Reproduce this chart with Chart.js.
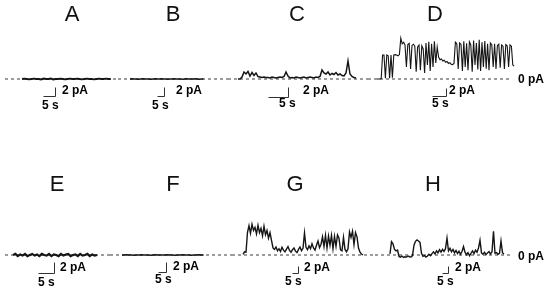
<!DOCTYPE html>
<html>
<head>
<meta charset="utf-8">
<script src="https://cdn.jsdelivr.net/npm/chart.js@4.4.0/dist/chart.umd.min.js"></script>
<style>
    html, body { margin: 0; padding: 0; background: #fff; }
    #wrap { position: relative; width: 550px; height: 291px; overflow: hidden; }
    #wrap canvas { position: absolute; }
</style>
</head>
<body>
<div id="wrap"></div>
<script>
// Panel letters and text labels
const panelLetters = ['A', 'B', 'C', 'D', 'E', 'F', 'G', 'H'];
const currentBarLabel = '2 pA';
const timeBarLabel = '5 s';
const zeroLabel = '0 pA';

// Scale bar sizes (same for every panel)
const scaleBarSec = 5;
const scaleBarPA = 2;

// Sample interval of each trace, seconds
const sampleSec = [1.0, 1.5, 0.5, 0.5, 0.75, 1.5, 1.25, 1.25];

// Current traces, pA
const traceA = [0, 0.1, 0, -0.1, 0, 0.1, 0, 0, -0.1, 0.1, 0, 0, 0.1, -0.1, 0, 0, 0.1, 0, -0.1, 0,
    0.1, 0, 0, 0.1, 0, -0.1, 0, 0.1, 0, 0, -0.1, 0, 0.1, 0, 0, 0.1, 0, 0];
const traceB = [0, 0.05, 0, 0, -0.05, 0, 0.05, 0, 0, 0, -0.05, 0, 0.05, 0, 0, 0.05, 0, 0,
    -0.05, 0, 0, 0.05, 0, 0, 0, -0.05, 0, 0.05, 0, 0, 0, 0.05, 0, -0.05, 0, 0];
const traceC = [0, 0, 0.4, 1.4, 1.0, 1.5, 0.6, 1.3, 0.7, 1.2, 0.5, 0.4, 0.3, 0.4, 0.3,
    0.3, 0.2, 0.4, 0.3, 0.2, 0.3, 0.4, 0.3, 0.5, 1.4,
    0.6, 0.2, 0.3, 0.2, 0.4, 0.3, 0.2, 0.3, 0.4, 0.2, 0.3, 0.4, 0.3, 0.2, 0.4, 0.3, 0.5, 1.8,
    1.2, 1.0, 1.4, 0.8, 1.1, 0.9, 1.3, 0.8, 1.0, 0.7,
    0.6, 1.2, 3.6, 1.0, 0.5, 0.3, 0.2];
const traceD = [0, 0, 0, 0.1, 6, 6, 0.2, 6, 5.8, 0.2, 6, 0.3, 6, 6.1, 6, 5.8, 6.1, 10.2,
    8.8, 9.2, 8.5, 3.0, 8.6, 8.9, 2.5, 8.4, 8.7, 8.2, 1.8, 8.0, 8.5, 2.2, 8.3, 7.5, 1.5, 9.0,
    3.5, 9.3, 2.0, 8.8, 3.0, 9.4, 4.0, 8.0,
    5.5, 4.8, 5.0, 4.5, 4.7, 4.2, 4.4, 3.9, 4.1, 3.7, 3.6, 3.9,
    9.2, 8.8, 2.5, 9.0, 8.7, 2.0, 9.4, 3.0, 8.9, 2.2, 9.3, 8.5, 1.8, 9.6, 3.5, 9.0, 2.4, 9.8,
    2.0, 9.2, 3.0, 9.5, 2.6, 8.8, 2.2, 9.0, 8.6, 3.0, 8.8, 2.5, 8.4, 8.7, 2.8, 8.5, 8.2, 2.5,
    8.6, 8.3, 3.0, 8.5, 8.2, 3.5, 3.2];
const traceE = [0, 0.2, -0.2, 0.1, -0.1, 0.2, -0.2, 0, 0.2, -0.1, 0.1, -0.2, 0.2, 0, -0.1, 0.2,
    -0.2, 0.1, 0, -0.2, 0.2, -0.1, 0.1, 0.2, -0.2, 0, 0.1, -0.2, 0.2, -0.1, 0, 0.2, -0.2, 0.1, -0.1, 0];
const traceF = [0, 0, 0.05, 0, 0, -0.05, 0, 0, 0.05, 0, 0, 0, -0.05, 0, 0.05, 0, 0, 0,
    0, 0.05, 0, 0, -0.05, 0, 0, 0.05, 0, 0, 0, -0.05, 0, 0, 0.05, 0, 0];
const traceG = [0.2, 0.9, 0.8, 6.5, 8.4, 6.2, 8.8, 7.0, 7.9, 6.0, 8.5, 6.4, 7.6, 5.5, 8.2, 5.8,
    7.0, 4.8, 6.4, 4.2, 2.0, 1.6, 2.3, 1.2, 1.8, 1.0, 2.2, 1.4, 0.9, 1.7, 2.4, 1.3, 0.8, 1.5,
    2.0, 1.1, 0.7, 1.6, 2.3, 1.2, 1.9, 6.3, 2.2, 1.5, 2.6, 1.8, 3.2, 2.0, 1.4, 2.8, 4.0, 2.1,
    3.0, 5.2, 2.4, 5.6, 2.0, 5.4, 2.8, 5.6, 1.8, 5.3, 2.5, 5.7, 4.8, 1.5, 1.2, 5.0, 1.6, 0.9,
    1.8, 6.6, 5.0, 6.8, 3.0, 6.4, 5.2, 2.0, 0.8, 0.3, 0];
const traceH = [0.3, 3.8, 3.2, 1.6, 1.2, 1.4, -0.4, -0.6, -0.3, -0.7, -0.5, -0.6, -0.3, -0.5,
    -0.6, -0.2, 2.8, 3.9, 4.3, 4.0, 3.6, 0.5, -0.4, -0.2, -0.6, -0.3, 0.2, -0.2, 0.4, 0.9, 0.3,
    1.2, 0.6, 1.5, 0.8, 1.6, 1.0, 1.8, 4.8, 1.2, 1.9, 0.9, 1.6, 0.6, 1.3, 0.4, 1.1, 0.2, 1.0,
    2.4, 0.8, 0.1, 0.7, -0.2, 0.5, 1.2, 0.4, 1.4, 0.8, 2.0, 4.2, 0.6, 0.2, 0.8, 0.1, 0.6, 1.0,
    0.3, 0.9, 6.8, 0.5, 0.7, 0.2, 0.5, 4.0, 0.6, 0.3];

const traces = [traceA, traceB, traceC, traceD, traceE, traceF, traceG, traceH];

// Page layout of each panel (pixels)
const layouts = [
    { left: 0,   width: 118, top: 0,   height: 145, base: 79,  traceLeft: 22,  pxPerSec: 2.4, pxPerPA: 4.5, lw: 1.8, dash: [5, 118],   letter: [72, 15],  corner: [55, 96],   pa: [62, 91],   sec: [42, 106] },
    { left: 118, width: 110, top: 0,   height: 145, base: 79,  traceLeft: 130, pxPerSec: 1.4, pxPerPA: 4.5, lw: 1.3, dash: [118, 228], letter: [173, 15], corner: [164, 96],  pa: [176, 91],  sec: [152, 106] },
    { left: 228, width: 140, top: 0,   height: 145, base: 79,  traceLeft: 238, pxPerSec: 4.0, pxPerPA: 5,   lw: 1.5, dash: [228, 368], letter: [297, 15], corner: [288, 97],  pa: [303, 91],  sec: [279, 104] },
    { left: 368, width: 182, top: 0,   height: 145, base: 79,  traceLeft: 377, pxPerSec: 2.8, pxPerPA: 4,   lw: 1.1, dash: [368, 512], letter: [435, 15], corner: [446, 96],  pa: [449, 91],  sec: [432, 104], zero: [518, 80] },
    { left: 0,   width: 110, top: 145, height: 146, base: 255, traceLeft: 13,  pxPerSec: 3.2, pxPerPA: 5.5, lw: 2.2, dash: [5, 110],   letter: [57, 185], corner: [54, 273],  pa: [60, 268],  sec: [38, 283] },
    { left: 110, width: 122, top: 145, height: 146, base: 255, traceLeft: 122, pxPerSec: 1.6, pxPerPA: 5,   lw: 1.3, dash: [110, 232], letter: [173, 185], corner: [166, 272], pa: [173, 267], sec: [155, 280] },
    { left: 232, width: 143, top: 145, height: 146, base: 255, traceLeft: 243, pxPerSec: 1.2, pxPerPA: 3.5, lw: 1.4, dash: [232, 375], letter: [295, 185], corner: [298, 273], pa: [304, 268], sec: [285, 282] },
    { left: 375, width: 175, top: 145, height: 146, base: 255, traceLeft: 390, pxPerSec: 1.2, pxPerPA: 3.5, lw: 1.4, dash: [375, 513], letter: [433, 185], corner: [448, 273], pa: [455, 268], sec: [437, 282], zero: [518, 257] }
];

// Draws the letter, the scale bar and its labels for one panel
const panelDecor = {
    id: 'panelDecor',
    afterDraw(chart, args, opts) {
        const ctx = chart.ctx;
        const L = opts.layout;
        const xs = chart.scales.x, ys = chart.scales.y;
        const ox = L.left, oy = L.top;
        ctx.save();

        ctx.fillStyle = '#111';
        ctx.textBaseline = 'middle';
        ctx.textAlign = 'center';
        ctx.font = '22px "Liberation Sans", Arial, sans-serif';
        ctx.fillText(opts.letter, L.letter[0] - ox, L.letter[1] - oy);

        // scale bar
        const hLen = xs.getPixelForValue(scaleBarSec) - xs.getPixelForValue(0);
        const vLen = ys.getPixelForValue(0) - ys.getPixelForValue(scaleBarPA);
        const cx = L.corner[0] - ox + 0.5, cy = L.corner[1] - oy + 0.5;
        ctx.strokeStyle = '#333';
        ctx.lineWidth = 1;
        ctx.beginPath();
        ctx.moveTo(cx, cy - vLen);
        ctx.lineTo(cx, cy);
        ctx.lineTo(cx - hLen, cy);
        ctx.stroke();

        ctx.textAlign = 'left';
        ctx.fillStyle = '#000';
        ctx.font = 'bold 12px "Liberation Sans", Arial, sans-serif';
        ctx.fillText(currentBarLabel, L.pa[0] - ox, L.pa[1] - oy);
        ctx.fillText(timeBarLabel, L.sec[0] - ox, L.sec[1] - oy);
        if (L.zero) ctx.fillText(zeroLabel, L.zero[0] - ox, L.zero[1] - oy);
        ctx.restore();
    }
};

const wrap = document.getElementById('wrap');

traces.forEach((trace, k) => {
    const L = layouts[k];
    const dt = sampleSec[k];
    const canvas = document.createElement('canvas');
    canvas.width = L.width;
    canvas.height = L.height;
    canvas.style.left = L.left + 'px';
    canvas.style.top = L.top + 'px';
    canvas.style.width = L.width + 'px';
    canvas.style.height = L.height + 'px';
    wrap.appendChild(canvas);

    const xMin = -(L.traceLeft - L.left) / L.pxPerSec;
    const xMax = xMin + L.width / L.pxPerSec;
    const yMax = (L.base - L.top) / L.pxPerPA;
    const yMin = -(L.top + L.height - L.base) / L.pxPerPA;
    const dashFrom = (L.dash[0] - L.traceLeft) / L.pxPerSec;
    const dashTo = (L.dash[1] - L.traceLeft) / L.pxPerSec;

    new Chart(canvas, {
        type: 'line',
        data: {
            datasets: [{
                data: trace.map((v, i) => ({ x: i * dt, y: v })),
                borderColor: '#151515',
                borderWidth: L.lw,
                pointRadius: 0,
                tension: 0
            }, {
                data: [{ x: dashFrom, y: 0 }, { x: dashTo, y: 0 }],
                borderColor: '#3a3a3a',
                borderWidth: 1,
                borderDash: [3, 3],
                pointRadius: 0
            }]
        },
        options: {
            responsive: false,
            animation: false,
            devicePixelRatio: 1,
            layout: { padding: 0 },
            plugins: {
                legend: { display: false },
                tooltip: { enabled: false },
                panelDecor: { layout: L, letter: panelLetters[k] }
            },
            scales: {
                x: { type: 'linear', display: false, min: xMin, max: xMax },
                y: { type: 'linear', display: false, min: yMin, max: yMax }
            }
        },
        plugins: [panelDecor]
    });
});
</script>
</body>
</html>
